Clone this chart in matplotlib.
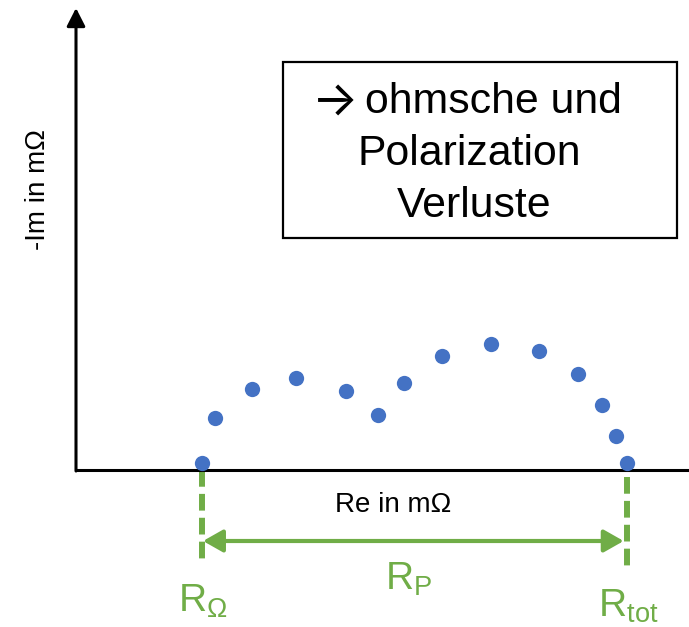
import matplotlib
matplotlib.use("Agg")
import matplotlib.pyplot as plt
from matplotlib.patches import FancyArrowPatch, Rectangle

plt.rcParams['font.family'] = ['Liberation Sans', 'DejaVu Sans']
plt.rcParams['mathtext.fontset'] = 'custom'
plt.rcParams['mathtext.rm'] = 'Liberation Sans'
plt.rcParams['mathtext.it'] = 'Liberation Sans'
plt.rcParams['mathtext.bf'] = 'Liberation Sans:bold'

# Data (axis origin at Re=0, -Im=0)
re_vals = [125.7, 139.3, 175.7, 219.7, 269.7, 302.3, 328.3, 366.0, 415.3,
           463.3, 502.0, 526.3, 540.3, 550.7]
im_vals = [6.7, 51.7, 80.7, 92.3, 79.3, 54.7, 86.7, 113.7, 126.3,
           118.7, 96.3, 65.3, 34.0, 7.3]
r_ohm = 125.5
r_tot = 550.7
x_label = "Re in mΩ"
y_label = "-Im in mΩ"
box_arrow = "→"
box_lines = ["ohmsche und", "Polarization", "Verluste"]
label_ohm = r"R$_\mathrm{Ω}$"
label_p = r"R$_\mathrm{P}$"
label_tot = r"R$_\mathrm{tot}$"

blue = "#4472C4"
green = "#70AD47"

fig = plt.figure(figsize=(6.89, 6.27), dpi=100)
ax = fig.add_axes([0, 0, 1, 1])
ax.set_xlim(-76, 613)
ax.set_ylim(-157, 470)
ax.axis('off')

# axes lines
ax.plot([-1.5, 613], [0, 0], color='black', lw=2.2, solid_capstyle='butt', zorder=2)
ax.add_patch(FancyArrowPatch((0, -1), (0, 462), arrowstyle='-|>,head_length=0.55,head_width=0.28',
                             mutation_scale=20, color='black', lw=2.2, shrinkA=0, shrinkB=0, zorder=2))

# data points
ax.plot(re_vals, im_vals, 'o', color=blue, ms=11, mec='none', zorder=3)

# dashed resistance markers
ax.plot([r_ohm, r_ohm], [0, -90], color=green, lw=4.3, dashes=(2.8, 1.2), zorder=1)
ax.plot([r_tot, r_tot], [-7, -97], color=green, lw=4.3, dashes=(2.8, 1.2), zorder=1)

# double arrow
ax.add_patch(FancyArrowPatch((r_ohm + 1.5, -71), (r_tot - 3, -71),
                             arrowstyle='<|-|>,head_length=0.6,head_width=0.34',
                             mutation_scale=20, color=green, lw=3, shrinkA=0, shrinkB=0, zorder=2))

# labels
ax.text(317, -35, x_label, fontsize=20, ha='center', va='center')
ax.text(-38, 280, y_label, fontsize=20, ha='center', va='center', rotation=90)

ax.text(r_ohm - 24, -142, label_ohm, fontsize=28, color=green, ha='left', va='baseline')
ax.text(309, -120, label_p, fontsize=28, color=green, ha='left', va='baseline')
ax.text(r_tot - 29, -147, label_tot, fontsize=28, color=green, ha='left', va='baseline')

# text box
ax.add_patch(Rectangle((207, 232), 394, 176, fill=False, edgecolor='black', lw=1.6, zorder=2))
ax.text(259.5, 355.5, box_arrow, fontsize=35, ha='center', va='baseline', family=['Inter', 'DejaVu Sans'])
ax.text(289, 357, box_lines[0], fontsize=30.8, ha='left', va='baseline')
ax.text(393.5, 305, box_lines[1], fontsize=30.8, ha='center', va='baseline')
ax.text(398, 253, box_lines[2], fontsize=30.8, ha='center', va='baseline')

fig.savefig("out.png", dpi=100)
